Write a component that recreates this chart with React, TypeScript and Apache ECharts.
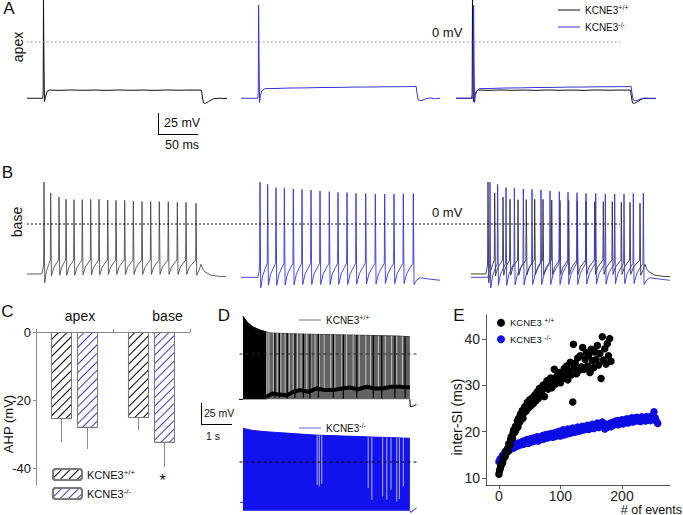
import React, { useEffect, useRef } from "react";
import * as echarts from "echarts";

const FONT = "'Liberation Sans', Arial, Helvetica, sans-serif";
const INK = "#111111";
const BLUE = "#3636d6";
const PX_PER_MV = 0.84;

// ---------- Panel A : apex, single AP (time ms, membrane potential mV)
const apexWT: number[][] = [
  [0, -67], [19.5, -67], [20.2, -62], [20.6, 50], [21.2, -20], [21.8, -71], [23, -66], [25, -59], [28, -57.2],
  [40, -57.6], [55, -57.1], [70, -57.5], [85, -57.2], [100, -57.6], [115, -57.1], [130, -57.5], [145, -57.2],
  [160, -57.6], [175, -57.1], [190, -57.4], [205, -57.2], [218, -57.3], [218.8, -62], [220.5, -72.5], [223, -73],
  [227, -71], [233, -67.5], [240, -67], [250, -67.2],
];
const apexKO: number[][] = [
  [0, -67], [21, -67], [21.6, -60], [22, 44], [22.6, -20], [23.2, -72], [24.2, -64], [26, -58], [30, -55.5],
  [45, -55.3], [60, -54.8], [80, -54.6], [100, -54.2], [120, -54.1], [140, -53.7], [160, -53.6], [180, -53.3],
  [200, -53.2], [219, -53], [219.8, -60], [221.5, -69], [225, -70], [230, -68], [236, -66.5], [242, -67.5], [249, -67],
];

// ---------- Panel B : base, spike trains
const baseWTSpikeMs = [21.25, 29.6, 40, 48.75, 58.75, 69.1, 79.6, 90, 100.9, 111.25, 122.1, 132.9, 143.75, 154.6, 165.4, 176.6, 187.9, 198.75, 211.25];
const baseWTPeakMV = [50, 37, 32, 29.5, 29, 29, 29.4, 29.4, 28.6, 28, 28, 27.4, 26.8, 26.6, 26.6, 26.6, 25.8, 25.8, 24.6];
const baseWTTroughMV = [-70, -62, -61, -61, -61, -60.5, -60.5, -60.5, -60, -60, -60, -60, -60, -60, -60, -60, -60, -60, -61];
const baseWTThresholdMV = -43;
const baseWTPre: number[][] = [[0, -59.5], [18.5, -59.5], [20.5, -50]];
const baseWTPost: number[][] = [[215, -55], [217.5, -48], [220, -54], [222.5, -57], [230, -61], [240, -62.3], [249, -62.7]];

const baseKOSpikeMs = [23.75, 33.3, 43.75, 54.2, 65.4, 76.25, 87.5, 98.75, 110.4, 121.25, 132.5, 143.75, 155.9, 167.9, 179.6, 191.25, 202.9, 215.4];
const baseKOPeakMV = [49.6, 47.2, 43.3, 42.5, 41.7, 41.3, 40.5, 39.3, 38.5, 37.7, 37.3, 36.5, 36.5, 35.7, 35.7, 35.7, 36.1, 36.5];
const baseKOTroughMV = [-76, -73, -73, -72.5, -72.5, -72, -72, -72, -72, -72, -72, -71.5, -71.5, -71.5, -71, -71, -71, -72];
const baseKOThresholdMV = -47;
const baseKOPre: number[][] = [[0, -63.5], [21, -63.5], [22.8, -56]];
const baseKOPost: number[][] = [[219.6, -66.7], [223.7, -64], [235, -65.5], [248.7, -67]];

const zeroRef: number[][] = [[0, 0], [1, 0]];

// ---------- Panel C : AHP (mV)
const cCategories = ["apex", "base"];
const ahpWT = [-25.6, -25.3];
const ahpWTsd = [6.8, 3.6];
const ahpKO = [-28.2, -32.6];
const ahpKOsd = [6.2, 7.1];

// ---------- Panel D : long trains (time s, mV)
const dWtEnvelope: number[][] = [[0.167, 45], [0.2, 43], [0.33, 37], [0.5, 32], [0.73, 28.6], [1.07, 25], [2, 23.8], [3.67, 22.6], [5.33, 21.4], [5.73, 20.5]];
const dWtBurst: number[][] = [[0.167, 45], [0.2, 43], [0.33, 37], [0.5, 32], [0.73, 28.6], [0.95, 26]];
const dWtFloorMV = -54;
const dWtTroughBand: number[][] = [[0.95, -51], [1.15, -47], [1.3, -48], [1.63, -49], [1.85, -45], [2.07, -43], [2.35, -45], [2.63, -41], [2.9, -43], [3.17, -43], [3.45, -41], [3.73, -40], [4.0, -42], [4.3, -39], [4.55, -41], [4.83, -41], [5.1, -39], [5.4, -39], [5.73, -40]];
const dWtLight: number[][] = [[0.96, 26, -50], [1.03, 25.5, -48], [1.18, 25, -47], [1.31, 25, -46], [1.43, 24.8, -47], [1.57, 24.6, -46], [1.71, 24.5, -48], [1.84, 24.4, -45], [1.98, 24.2, -44], [2.1, 24, -43], [2.29, 24, -42], [2.43, 23.8, -43], [2.57, 23.8, -41], [2.71, 23.6, -42], [2.87, 23.5, -41], [3.09, 23.3, -43], [3.23, 23.2, -42], [3.46, 23, -41], [3.62, 22.9, -40], [3.84, 22.6, -41], [4.04, 22.4, -40], [4.26, 22.2, -39], [4.42, 22, -40], [4.68, 21.8, -41], [4.91, 21.6, -40], [5.12, 21.5, -39], [5.29, 21.4, -40], [5.48, 21.1, -39]];
const dWtDark: number[][] = [[1.23, 25, -52], [1.38, 25, -52], [1.64, 24.6, -53], [1.9, 24.3, -52], [2.18, 24, -52], [2.4, 23.8, -53], [2.68, 23.6, -52], [3.18, 23.2, -52], [3.51, 23, -53], [3.96, 22.5, -52], [4.51, 22, -52], [4.79, 21.7, -53], [5.23, 21.4, -52], [5.57, 21, -52]];
const dWtPre: number[][] = [[0.03, -54], [0.167, -54]];
const dWtTail: number[][] = [[5.73, -54], [5.74, -62.5], [5.85, -62], [5.95, -60]];

const dKoEnvelope: number[][] = [[0.167, 40], [0.5, 37.5], [0.95, 36], [2.6, 32], [4.27, 30], [5.73, 28.2]];
const dKoFloorMV = -58;
const dKoLight: number[][] = [[2.64, 31.8, -27], [2.71, 31.7, -29], [2.79, 31.6, -26], [4.34, 29.9, -31], [4.46, 29.8, -45], [4.82, 29.3, -41], [4.96, 29.1, -45], [5.1, 29, -33], [5.29, 28.8, -47], [5.38, 28.7, -44], [5.51, 28.5, -29]];
const dKoPre: number[][] = [[0.07, -48], [0.167, -48]];
const dKoTail: number[][] = [[5.73, -58], [5.76, -60], [5.88, -56.5], [5.95, -55]];
const dZero: number[][] = [[0.05, 0], [5.95, 0]];

// ---------- Panel E : inter-spike interval (# of events, ms)
const eWT: number[][] = [
  [0, 10.8], [1, 11.6], [2, 12.0], [3, 12.6], [4, 12.9], [5, 13.4], [6, 13.3], [7, 14.1], [8, 14.5], [10, 14.6], [11, 15.3], [12, 15.9],
  [14, 16.4], [15, 15.8], [16, 17.4], [18, 17.2], [19, 18.3], [20, 18.9], [22, 18.6], [23, 19.8], [24, 20.4], [26, 19.9], [27, 21.2],
  [28, 20.6], [30, 22.3], [31, 21.0], [32, 22.9], [34, 22.1], [35, 23.8], [36, 23.0], [38, 24.6], [39, 22.9], [40, 24.0], [42, 25.4],
  [44, 24.4], [46, 26.3], [48, 25.1], [50, 26.9], [52, 25.6], [54, 27.3], [56, 26.1], [58, 27.9], [60, 26.7], [62, 28.6], [64, 27.2],
  [66, 29.4], [68, 27.8], [70, 28.9], [72, 30.1], [74, 27.6], [76, 29.8], [78, 31.0], [80, 29.2], [82, 30.7], [84, 31.6], [86, 29.5],
  [88, 30.9], [90, 33.5], [92, 30.3], [94, 32.0], [96, 31.1], [98, 32.8], [100, 30.6], [102, 32.4], [104, 31.5], [106, 33.6], [108, 32.0],
  [110, 34.2], [112, 31.2], [114, 33.1], [116, 35.0], [118, 32.3], [120, 26.4], [121, 38.9], [122, 33.9], [124, 34.8], [126, 32.5],
  [128, 35.9], [130, 33.2], [132, 36.4], [134, 34.0], [136, 38.2], [138, 33.5], [140, 35.6], [142, 37.1], [144, 34.2], [146, 36.5],
  [148, 32.8], [150, 37.8], [152, 35.3], [154, 33.8], [156, 37.2], [158, 35.6], [160, 38.6], [162, 34.4], [164, 36.9], [166, 31.5],
  [168, 40.5], [170, 35.5], [172, 37.9], [174, 34.6], [176, 39.0], [178, 36.4], [180, 40.1], [182, 35.2],
];
const eKO: number[][] = [
  [0, 13.5], [2, 14.1], [4, 14.3], [6, 14.9], [8, 15.0], [10, 15.6], [12, 15.4], [14, 16.2], [16, 15.9], [18, 16.6], [20, 16.3], [22, 16.9],
  [24, 16.5], [26, 17.2], [28, 16.8], [30, 17.5], [32, 17.0], [34, 17.6], [36, 17.2], [38, 17.9], [40, 17.3], [42, 18.1], [44, 17.6],
  [46, 18.3], [48, 17.5], [50, 18.4], [52, 17.8], [54, 18.6], [56, 17.9], [58, 18.7], [60, 18.1], [62, 18.9], [64, 18.0], [66, 18.6],
  [68, 18.3], [70, 19.1], [72, 18.4], [74, 19.3], [76, 18.6], [78, 19.4], [80, 18.7], [82, 19.5], [84, 18.9], [86, 19.6], [88, 18.8],
  [90, 19.7], [92, 19.0], [94, 19.9], [96, 19.2], [98, 20.1], [100, 19.1], [102, 19.8], [104, 20.4], [106, 19.3], [108, 20.2], [110, 19.5],
  [112, 20.6], [114, 19.6], [116, 20.3], [118, 19.8], [120, 20.8], [122, 19.9], [124, 20.5], [126, 20.0], [128, 21.0], [130, 20.1],
  [132, 20.7], [134, 20.3], [136, 21.2], [138, 20.4], [140, 21.0], [142, 20.6], [144, 21.4], [146, 20.5], [148, 21.3], [150, 20.8],
  [152, 21.6], [154, 20.7], [156, 21.5], [158, 21.0], [160, 21.9], [162, 20.9], [164, 21.7], [166, 21.2], [168, 22.1], [170, 21.3],
  [172, 20.6], [174, 21.6], [176, 20.9], [178, 21.4], [180, 21.8], [182, 21.1], [184, 22.0], [186, 21.4], [188, 22.2], [190, 21.6],
  [192, 22.4], [194, 21.5], [196, 22.3], [198, 21.8], [200, 22.6], [202, 21.7], [204, 22.5], [206, 22.0], [208, 22.8], [210, 21.9],
  [212, 22.7], [214, 22.2], [216, 23.0], [218, 22.1], [220, 22.9], [222, 22.3], [224, 23.1], [226, 22.4], [228, 22.8], [230, 22.2],
  [232, 23.2], [234, 22.5], [236, 23.0], [238, 22.3], [240, 23.3], [242, 22.6], [244, 22.9], [246, 22.4], [248, 23.4], [250, 22.7],
  [252, 24.3], [254, 23.0], [256, 22.2], [258, 21.8],
];

const LEGEND_TEXT: Record<string, string> = {
  A_wt: "KCNE3{s|+/+}",
  A_ko: "KCNE3{s|-/-}",
  C_wt: "KCNE3{s|+/+}",
  C_ko: "KCNE3{s|-/-}",
  D_wt: "KCNE3{s|+/+}",
  D_ko: "KCNE3{s|-/-}",
  E_wt: "KCNE3 {s|+/+}",
  E_ko: "KCNE3 {s|-/-}",
};

function spikeTrain(pre: number[][], times: number[], peaks: number[], troughs: number[], thr: number, post: number[][]) {
  const pts: number[][] = pre.map((p) => p.slice());
  times.forEach((t, i) => {
    pts.push([t - 0.5, thr], [t, peaks[i]], [t + 0.9, troughs[i]]);
    const next = times[i + 1];
    if (next !== undefined) {
      const span = next - 0.5 - (t + 0.9);
      pts.push([t + 0.9 + span * 0.3, troughs[i] + (thr - troughs[i]) * 0.5]);
      pts.push([t + 0.9 + span * 0.7, troughs[i] + (thr - troughs[i]) * 0.8]);
    }
  });
  return pts.concat(post.map((p) => p.slice()));
}

function legendStyle(fontSize: number) {
  return {
    fontFamily: FONT,
    fontSize,
    color: INK,
    lineHeight: fontSize + 2,
    rich: { s: { fontFamily: FONT, fontSize: Math.round(fontSize * 0.7), lineHeight: Math.round(fontSize * 0.7), verticalAlign: "top", color: INK } },
  };
}

function buildOption() {
  const grid: any[] = [];
  const xAxis: any[] = [];
  const yAxis: any[] = [];
  const series: any[] = [];

  const addTraceGrid = (left: number, width: number, zeroY: number, xmin: number, xmax: number, ymin: number, ymax: number) => {
    grid.push({ left, width, top: zeroY - ymax * PX_PER_MV, height: (ymax - ymin) * PX_PER_MV, containLabel: false, outerBoundsMode: "none" });
    const i = grid.length - 1;
    xAxis.push({ gridIndex: i, type: "value", min: xmin, max: xmax, show: false });
    yAxis.push({ gridIndex: i, type: "value", min: ymin, max: ymax, show: false });
    return i;
  };
  const line = (idx: number, name: string, data: any[], color: string, width = 1, dash: any = null, z = 2) => {
    series.push({
      type: "line", name, xAxisIndex: idx, yAxisIndex: idx, data, symbol: "none", showSymbol: false, silent: true, z,
      lineStyle: dash ? { color, width, type: dash } : { color, width }, itemStyle: { color },
    });
  };
  const vlines = (idx: number, data: number[][], color: string, width: number) => {
    series.push({
      type: "custom", xAxisIndex: idx, yAxisIndex: idx, data, silent: true, z: 3, encode: { x: 0, y: [1, 2] },
      renderItem: (_p: any, api: any) => {
        const a = api.coord([api.value(0), api.value(1)]);
        const b = api.coord([api.value(0), api.value(2)]);
        return { type: "line", z2: 50, shape: { x1: a[0], y1: a[1], x2: b[0], y2: b[1] }, style: { stroke: color, lineWidth: width } };
      },
    });
  };

  // Panel A
  const gA1 = addTraceGrid(27, 200, 42, 0, 250, -80, 50);
  line(gA1, "A_wt", apexWT, INK);
  const gA2 = addTraceGrid(241, 200, 42, 0, 250, -80, 50);
  line(gA2, "A_ko", apexKO, BLUE);
  const gA3 = addTraceGrid(456, 200, 42, 0, 250, -80, 50);
  line(gA3, "A3_wt", apexWT, INK);
  line(gA3, "A3_ko", apexKO, BLUE);
  const gA0 = addTraceGrid(27, 593, 42, 0, 1, -80, 50);
  line(gA0, "A_zero", zeroRef, "#8c8c8c", 1, [1.5, 2.5]);

  // Panel B
  const bWT = spikeTrain(baseWTPre, baseWTSpikeMs, baseWTPeakMV, baseWTTroughMV, baseWTThresholdMV, baseWTPost);
  const bKO = spikeTrain(baseKOPre, baseKOSpikeMs, baseKOPeakMV, baseKOTroughMV, baseKOThresholdMV, baseKOPost);
  const gB1 = addTraceGrid(27, 200, 224, 0, 250, -85, 52);
  line(gB1, "B_wt", bWT, "#444444", 0.85);
  const gB2 = addTraceGrid(241, 200, 224, 0, 250, -85, 52);
  line(gB2, "B_ko", bKO, BLUE, 0.9);
  const gB3 = addTraceGrid(471, 200, 224, 0, 250, -85, 52);
  line(gB3, "B3_wt", bWT, "#333333", 0.9);
  line(gB3, "B3_ko", bKO, BLUE, 0.9);
  const gB0 = addTraceGrid(27, 593, 224, 0, 1, -85, 52);
  line(gB0, "B_zero", zeroRef, "#111111", 1, [2, 2]);

  // Panel C
  grid.push({ left: 36, top: 332, width: 154, height: 153, containLabel: false, outerBoundsMode: "none" });
  const gC = grid.length - 1;
  xAxis.push({
    gridIndex: gC, type: "category", data: cCategories, position: "top",
    axisLine: { onZero: false, lineStyle: { color: "#8a8a8a", width: 1 } },
    axisTick: { show: true, length: 3, lineStyle: { color: "#8a8a8a" } },
    axisLabel: {
      margin: 9, fontSize: 14, fontFamily: FONT, color: INK,
      formatter: (v: string) => (v === "apex" ? "{a|apex}" : "{b|base}"),
      rich: { a: { fontSize: 14, fontFamily: FONT, color: INK, padding: [0, 0, 0, 11] }, b: { fontSize: 14, fontFamily: FONT, color: INK, padding: [0, 0, 0, 32] } },
    },
  });
  yAxis.push({
    gridIndex: gC, type: "value", min: -45, max: 0, splitNumber: 2,
    axisLine: { show: true, onZero: false, lineStyle: { color: "#8a8a8a", width: 1 } },
    axisTick: { show: true, length: 3, lineStyle: { color: "#8a8a8a" } },
    axisLabel: { fontSize: 13, fontFamily: FONT, color: INK, margin: 5, showMinLabel: false },
    splitLine: { show: false },
  });
  const hatch = (color: string) => ({ symbol: "rect", symbolSize: 1, color, dashArrayX: [1, 0], dashArrayY: [1, 5], rotation: -Math.PI / 4 });
  series.push({
    type: "bar", name: "C_wt", xAxisIndex: gC, yAxisIndex: gC, data: ahpWT, barWidth: 21, barGap: "24%",
    itemStyle: { color: "#ffffff", borderColor: "#7a7a7a", borderWidth: 1, decal: hatch("#000000") },
  });
  series.push({
    type: "bar", name: "C_ko", xAxisIndex: gC, yAxisIndex: gC, data: ahpKO, barWidth: 21,
    itemStyle: { color: "#ffffff", borderColor: "#7a7a7a", borderWidth: 1, decal: hatch("#3b3bc8") },
  });
  const errSeries = (vals: number[], sds: number[], off: number) => ({
    type: "custom", xAxisIndex: gC, yAxisIndex: gC, silent: true, encode: { x: 0, y: [1, 2] },
    data: vals.map((v, i) => [i, v, v - sds[i]]),
    renderItem: (_p: any, api: any) => {
      const a = api.coord([api.value(0), api.value(1)]);
      const b = api.coord([api.value(0), api.value(2)]);
      return { type: "line", shape: { x1: a[0] + off, y1: a[1], x2: b[0] + off, y2: b[1] }, style: { stroke: "#8a8a8a", lineWidth: 1 } };
    },
  });
  series.push(errSeries(ahpWT, ahpWTsd, -13));
  series.push(errSeries(ahpKO, ahpKOsd, 13));

  // Panel D
  const gDt = addTraceGrid(238, 180, 354, 0, 6, -70, 50);
  series.push({ type: "line", xAxisIndex: gDt, yAxisIndex: gDt, data: dWtEnvelope, symbol: "none", silent: true, z: 1, lineStyle: { color: "#3c3c3c", width: 1 }, areaStyle: { color: "#626262", opacity: 1, origin: dWtFloorMV } });
  series.push({ type: "line", xAxisIndex: gDt, yAxisIndex: gDt, data: dWtBurst, symbol: "none", silent: true, z: 1, lineStyle: { color: "#000", width: 1 }, areaStyle: { color: "#000", opacity: 1, origin: dWtFloorMV } });
  vlines(gDt, dWtLight, "#c2c2c2", 1);
  vlines(gDt, dWtDark, "#000000", 1.2);
  line(gDt, "D_band", dWtTroughBand, "#000000", 4, null, 4);
  line(gDt, "D_pre", dWtPre, "#000000", 1, null, 4);
  line(gDt, "D_tail", dWtTail, "#000000", 1, null, 4);
  line(gDt, "D_zero_t", dZero, "#2a2a2a", 1, [3, 3], 4);
  line(gDt, "D_wt", [], "#707070", 1);

  const gDb = addTraceGrid(238, 180, 462, 0, 6, -70, 50);
  series.push({ type: "line", xAxisIndex: gDb, yAxisIndex: gDb, data: dKoEnvelope, symbol: "none", silent: true, z: 1, lineStyle: { color: "#1212ee", width: 1 }, areaStyle: { color: "#1212ee", opacity: 1, origin: dKoFloorMV } });
  vlines(gDb, dKoLight, "#a6a6ff", 1.1);
  line(gDb, "D_pre_b", dKoPre, "#1212ee", 1, null, 4);
  line(gDb, "D_tail_b", dKoTail, "#1212ee", 1, null, 4);
  line(gDb, "D_zero_b", dZero, "#000000", 1, [3, 3], 4);
  line(gDb, "D_ko", [], "#9a9ae6", 1.5);

  // Panel E
  grid.push({ left: 486, top: 315, width: 184, height: 170, containLabel: false, outerBoundsMode: "none" });
  const gE = grid.length - 1;
  xAxis.push({
    gridIndex: gE, type: "value", min: -21, max: 278, splitNumber: 3,
    axisLine: { show: true, onZero: false, lineStyle: { color: "#555", width: 1 } },
    axisTick: { show: true, length: 4, lineStyle: { color: "#555" } },
    axisLabel: { fontSize: 14, fontFamily: FONT, color: "#222", margin: 4, showMinLabel: false, showMaxLabel: false },
    splitLine: { show: false },
  });
  yAxis.push({
    gridIndex: gE, type: "value", min: 8.5, max: 45.2, splitNumber: 4,
    axisLine: { show: true, onZero: false, lineStyle: { color: "#555", width: 1 } },
    axisTick: { show: true, length: 4, lineStyle: { color: "#555" } },
    axisLabel: { fontSize: 14, fontFamily: FONT, color: "#222", margin: 6, showMinLabel: false, showMaxLabel: false },
    splitLine: { show: false },
  });
  series.push({ type: "scatter", name: "E_ko", xAxisIndex: gE, yAxisIndex: gE, data: eKO, symbolSize: 7.5, silent: true, itemStyle: { color: "#0c0ce4", opacity: 1 } });
  series.push({ type: "scatter", name: "E_wt", xAxisIndex: gE, yAxisIndex: gE, data: eWT, symbolSize: 7.5, silent: true, itemStyle: { color: "#000000", opacity: 1 } });

  const fmt = (n: string) => LEGEND_TEXT[n] || n;
  const legend = [
    { data: ["A_wt", "A_ko"], left: 558, top: 4, orient: "vertical", padding: 0, icon: "rect", itemWidth: 22, itemHeight: 1, itemGap: 5, formatter: fmt, textStyle: legendStyle(10), selectedMode: false },
    { data: ["C_wt", "C_ko"], left: 52, top: 468, orient: "vertical", padding: 0, itemWidth: 29, itemHeight: 11, itemGap: 6, formatter: fmt, textStyle: legendStyle(11), selectedMode: false },
    { data: ["D_wt"], left: 299, top: 314, padding: 0, icon: "rect", itemWidth: 22, itemHeight: 1, formatter: fmt, textStyle: legendStyle(10), selectedMode: false },
    { data: ["D_ko"], left: 299, top: 422, padding: 0, icon: "rect", itemWidth: 22, itemHeight: 1.5, formatter: fmt, textStyle: legendStyle(10), selectedMode: false },
    { data: ["E_wt", "E_ko"], left: 497, top: 317, orient: "vertical", padding: 0, icon: "circle", itemWidth: 8, itemHeight: 8, itemGap: 5, formatter: fmt, textStyle: legendStyle(9.5), selectedMode: false },
  ];

  const txt = (text: string, x: number, y: number, fontSize: number, align = "left", extra: any = {}) => ({
    type: "text", x, y, silent: true, ...extra,
    style: { text, fontSize, fontFamily: FONT, fill: INK, align, verticalAlign: "middle" },
  });
  const seg = (x1: number, y1: number, x2: number, y2: number) => ({
    type: "line", silent: true, shape: { x1, y1, x2, y2 }, style: { stroke: "#000", lineWidth: 1 },
  });

  const graphic = [
    txt("A", 9, 8, 17, "center"),
    txt("B", 7.5, 172.5, 17, "center"),
    txt("C", 7.5, 311.5, 17, "center"),
    txt("D", 224, 315.5, 17, "center"),
    txt("E", 459, 315, 17, "center"),
    txt("apex", 17.5, 47, 14, "center", { rotation: Math.PI / 2 }),
    txt("base", 17, 222, 14, "center", { rotation: Math.PI / 2 }),
    txt("0 mV", 432, 32, 13),
    txt("0 mV", 432, 212, 13),
    seg(158.5, 113, 158.5, 134.5),
    seg(158, 134.5, 198, 134.5),
    txt("25 mV", 164, 123, 12.5),
    txt("50 ms", 165, 145, 12.5),
    seg(201.5, 403, 201.5, 424.5),
    seg(201, 424.5, 232, 424.5),
    txt("25 mV", 204, 412.5, 10.5),
    txt("1 s", 206, 436, 10.5),
    txt("AHP (mV)", 8, 424, 13, "center", { rotation: Math.PI / 2 }),
    txt("*", 162.5, 480, 16, "center"),
    txt("inter-SI (ms)", 457, 417, 14, "center", { rotation: Math.PI / 2 }),
    txt("# of events", 682, 509.5, 12.5, "right"),
  ];

  return {
    animation: false,
    backgroundColor: "#ffffff",
    textStyle: { fontFamily: FONT },
    grid, xAxis, yAxis, series, legend, graphic,
  };
}

export default function App() {
  const ref = useRef<HTMLDivElement>(null);
  useEffect(() => {
    if (!ref.current) return;
    const chart = echarts.init(ref.current, null, { renderer: "svg" });
    chart.setOption(buildOption() as any);
    return () => chart.dispose();
  }, []);
  return <div ref={ref} style={{ position: "absolute", left: 0, top: 0, width: 683, height: 515, background: "#fff" }} />;
}
